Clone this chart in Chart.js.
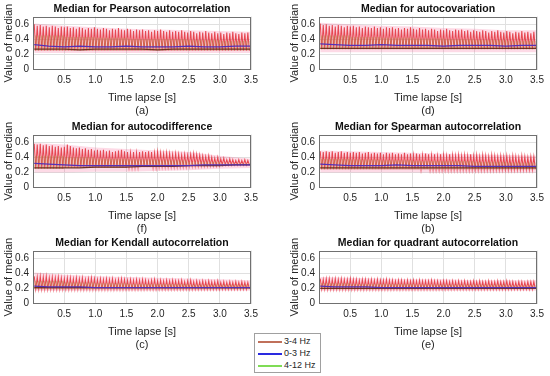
<!DOCTYPE html>
<html>
<head>
<meta charset="utf-8">
<script src="https://cdn.jsdelivr.net/npm/chart.js@4.4.1/dist/chart.umd.min.js"></script>
<style>
  body { margin: 0; background: #fff; }
  #wrap { position: relative; width: 550px; height: 376px; overflow: hidden; }
  canvas { position: absolute; }
  #legend {
    position: absolute; left: 254px; top: 333px; width: 65px; height: 38px;
    border: 1px solid #a0a0a0; background: #fff;
    font: 9px "Liberation Sans", Arial, sans-serif; color: #262626;
  }
  .row { position: absolute; left: 3px; height: 12px; line-height: 12px; white-space: nowrap; }
  .swatch { display: inline-block; width: 24px; height: 2px; vertical-align: middle; margin-right: 2px; }
</style>
</head>
<body>
<div id="wrap">
  <canvas id="c0" width="264" height="118" style="left:0;top:0"></canvas>
  <canvas id="c1" width="264" height="118" style="left:286px;top:0"></canvas>
  <canvas id="c2" width="264" height="118" style="left:0;top:118px"></canvas>
  <canvas id="c3" width="264" height="118" style="left:286px;top:118px"></canvas>
  <canvas id="c4" width="264" height="118" style="left:0;top:234px"></canvas>
  <canvas id="c5" width="264" height="118" style="left:286px;top:234px"></canvas>
  <div id="legend"></div>
</div>
<script>
// ---- labels ----
const panelTitles = [
  'Median for Pearson autocorrelation',
  'Median for autocovariation',
  'Median for autocodifference',
  'Median for Spearman autocorrelation',
  'Median for Kendall autocorrelation',
  'Median for quadrant autocorrelation'
];
const panelLetters = ['(a)', '(d)', '(f)', '(b)', '(c)', '(e)'];
const seriesNames = ['3-4 Hz', '0-3 Hz', '4-12 Hz'];
const xTicks = [0.5, 1, 1.5, 2, 2.5, 3, 3.5];
const yTicks = [0, 0.2, 0.4, 0.6];

// time grid (s)
const envTimes = [0.02, 0.5, 1, 1.5, 2, 2.5, 3, 3.5];
const lineTimes = [0.02, 0.25, 0.5, 0.75, 1, 1.25, 1.5, 1.75, 2, 2.25, 2.5, 2.75, 3, 3.25, 3.5];
const spikeStart = 0.02;
const spikeStep = 0.0483;

// ---- (a) Pearson ----
const pearsonPeaks = [
  0.60,0.58,0.59,0.57,0.58,0.56,0.58,0.57,0.55,0.57,0.56,0.57,
  0.55,0.56,0.54,0.56,0.55,0.53,0.55,0.54,0.56,0.54,0.53,0.55,
  0.54,0.52,0.54,0.53,0.55,0.53,0.52,0.54,0.53,0.51,0.53,0.52,
  0.53,0.51,0.52,0.50,0.52,0.51,0.53,0.51,0.50,0.52,0.50,0.51,
  0.50,0.52,0.50,0.49,0.51,0.50,0.48,0.50,0.49,0.51,0.49,0.48,
  0.50,0.48,0.49,0.47,0.49,0.48,0.50,0.48,0.47,0.49,0.48,0.49
];
const pearsonTroughs = [0.25, 0.25, 0.25, 0.25, 0.25, 0.25, 0.25];
const pearsonGreen = [0.45, 0.43, 0.42, 0.40, 0.40, 0.39, 0.38];
const pearsonBandTop = [0.61, 0.58, 0.56, 0.54, 0.53, 0.52, 0.51, 0.50];
const pearsonBandBottom = [0.22, 0.22, 0.22, 0.22, 0.22, 0.22, 0.22, 0.22];
const pearsonBlue = [0.33,0.31,0.30,0.31,0.30,0.30,0.31,0.30,0.30,0.30,0.31,0.30,0.30,0.31,0.31];
const pearsonDark = [0.27,0.27,0.27,0.26,0.27,0.27,0.27,0.27,0.26,0.27,0.27,0.27,0.27,0.27,0.27];

// ---- (d) autocovariation ----
const covPeaks = [
  0.61,0.59,0.60,0.58,0.59,0.57,0.59,0.58,0.56,0.58,0.57,0.58,
  0.56,0.57,0.55,0.57,0.56,0.55,0.57,0.55,0.56,0.54,0.56,0.55,
  0.56,0.54,0.55,0.53,0.55,0.54,0.56,0.54,0.53,0.55,0.53,0.54,
  0.52,0.54,0.53,0.51,0.53,0.52,0.54,0.52,0.51,0.53,0.52,0.53,
  0.51,0.52,0.50,0.52,0.51,0.50,0.52,0.51,0.49,0.51,0.50,0.52,
  0.50,0.49,0.51,0.50,0.48,0.50,0.49,0.51,0.49,0.50,0.48,0.50
];
const covTroughs = [0.27, 0.27, 0.27, 0.27, 0.27, 0.27, 0.27];
const covGreen = [0.45, 0.43, 0.42, 0.41, 0.40, 0.39, 0.38];
const covBandTop = [0.62, 0.60, 0.58, 0.57, 0.55, 0.54, 0.52, 0.52];
const covBandBottom = [0.23, 0.23, 0.23, 0.23, 0.23, 0.23, 0.23, 0.23];
const covBlue = [0.34,0.33,0.32,0.32,0.33,0.32,0.32,0.32,0.31,0.32,0.32,0.32,0.31,0.32,0.32];
const covDark = [0.28,0.28,0.28,0.28,0.28,0.28,0.28,0.28,0.28,0.28,0.28,0.28,0.28,0.28,0.28];

// ---- (f) autocodifference ----
const diffPeaks = [
  0.58,0.57,0.58,0.56,0.57,0.55,0.56,0.54,0.55,0.53,0.54,0.57,
  0.55,0.53,0.52,0.53,0.51,0.52,0.50,0.51,0.49,0.50,0.49,0.50,
  0.48,0.49,0.47,0.48,0.49,0.50,0.48,0.47,0.46,0.47,0.46,0.47,
  0.48,0.47,0.48,0.47,0.46,0.47,0.46,0.45,0.46,0.45,0.44,0.45,
  0.44,0.43,0.44,0.43,0.44,0.45,0.44,0.43,0.42,0.41,0.42,0.40,
  0.39,0.40,0.38,0.39,0.37,0.38,0.37,0.36,0.37,0.36,0.37,0.36
];
const diffTroughs = [0.25, 0.26, 0.26, 0.27, 0.28, 0.29, 0.30];
const diffGreen = [0.42, 0.40, 0.38, 0.37, 0.36, 0.34, 0.32];
const diffBandTop = [0.59, 0.57, 0.53, 0.51, 0.49, 0.47, 0.42, 0.38];
const diffBandBottom = [0.20, 0.20, 0.21, 0.21, 0.22, 0.23, 0.25, 0.26];
const diffBlue = [0.32,0.31,0.30,0.29,0.29,0.29,0.29,0.29,0.29,0.29,0.29,0.30,0.30,0.30,0.30];
const diffDark = [0.26,0.26,0.26,0.26,0.27,0.27,0.27,0.28,0.28,0.28,0.29,0.29,0.29,0.30,0.30];

// ---- (b) Spearman ----
const spearPeaks = [
  0.48,0.47,0.48,0.47,0.48,0.46,0.47,0.48,0.46,0.47,0.46,0.47,
  0.46,0.47,0.45,0.46,0.47,0.45,0.46,0.45,0.46,0.44,0.46,0.45,
  0.46,0.44,0.45,0.44,0.46,0.44,0.45,0.43,0.45,0.44,0.43,0.45,
  0.44,0.43,0.44,0.42,0.44,0.43,0.42,0.44,0.43,0.42,0.43,0.42,
  0.43,0.42,0.44,0.42,0.43,0.41,0.43,0.42,0.41,0.43,0.42,0.41,
  0.42,0.41,0.42,0.40,0.42,0.41,0.40,0.42,0.41,0.40,0.41,0.41
];
const spearTroughs = [0.24, 0.24, 0.24, 0.24, 0.24, 0.24, 0.24];
const spearGreen = [0.38, 0.37, 0.36, 0.35, 0.35, 0.34, 0.33];
const spearBandTop = [0.49, 0.48, 0.47, 0.46, 0.45, 0.44, 0.43, 0.42];
const spearBandBottom = [0.20, 0.20, 0.20, 0.20, 0.20, 0.20, 0.20, 0.20];
const spearBlue = [0.31,0.30,0.29,0.29,0.29,0.30,0.29,0.29,0.29,0.29,0.28,0.28,0.28,0.28,0.28];
const spearDark = [0.26,0.26,0.26,0.26,0.26,0.26,0.26,0.26,0.26,0.26,0.26,0.26,0.26,0.26,0.26];

// ---- (c) Kendall ----
const kendallPeaks = [
  0.36,0.35,0.36,0.35,0.36,0.34,0.35,0.34,0.35,0.34,0.33,0.34,
  0.34,0.33,0.34,0.33,0.34,0.32,0.33,0.34,0.33,0.32,0.33,0.32,
  0.33,0.32,0.33,0.31,0.32,0.33,0.32,0.31,0.32,0.31,0.32,0.31,
  0.32,0.31,0.30,0.31,0.32,0.30,0.31,0.30,0.31,0.30,0.31,0.30,
  0.30,0.31,0.29,0.30,0.31,0.29,0.30,0.29,0.30,0.29,0.30,0.29,
  0.29,0.30,0.28,0.29,0.28,0.29,0.28,0.29,0.28,0.29,0.28,0.28
];
const kendallTroughs = [0.19, 0.19, 0.19, 0.19, 0.19, 0.19, 0.19];
const kendallGreen = [0.30, 0.28, 0.27, 0.26, 0.26, 0.25, 0.25];
const kendallBandTop = [0.41, 0.38, 0.36, 0.35, 0.34, 0.33, 0.32, 0.31];
const kendallBandBottom = [0.17, 0.17, 0.17, 0.17, 0.17, 0.17, 0.17, 0.17];
const kendallBlue = [0.23,0.22,0.22,0.22,0.21,0.21,0.21,0.21,0.21,0.21,0.21,0.21,0.21,0.21,0.21];
const kendallDark = [0.21,0.21,0.21,0.21,0.21,0.21,0.21,0.21,0.21,0.21,0.21,0.21,0.21,0.21,0.21];

// ---- (e) quadrant ----
const quadPeaks = [
  0.33,0.32,0.33,0.33,0.32,0.33,0.32,0.33,0.32,0.32,0.33,0.32,
  0.32,0.31,0.32,0.32,0.31,0.32,0.31,0.32,0.31,0.31,0.32,0.31,
  0.31,0.30,0.31,0.31,0.30,0.31,0.30,0.31,0.30,0.31,0.30,0.30,
  0.30,0.31,0.30,0.30,0.29,0.30,0.30,0.29,0.30,0.29,0.30,0.29,
  0.30,0.29,0.29,0.30,0.29,0.30,0.29,0.29,0.30,0.29,0.29,0.30,
  0.29,0.29,0.30,0.29,0.29,0.28,0.29,0.29,0.28,0.29,0.29,0.29
];
const quadTroughs = [0.19, 0.19, 0.19, 0.19, 0.19, 0.19, 0.19];
const quadGreen = [0.27, 0.26, 0.26, 0.25, 0.25, 0.25, 0.24];
const quadBandTop = [0.35, 0.34, 0.33, 0.32, 0.32, 0.31, 0.31, 0.31];
const quadBandBottom = [0.17, 0.17, 0.17, 0.17, 0.17, 0.17, 0.17, 0.17];
const quadBlue = [0.23,0.22,0.22,0.22,0.21,0.21,0.21,0.21,0.21,0.21,0.21,0.21,0.21,0.21,0.21];
const quadDark = [0.20,0.20,0.20,0.20,0.20,0.20,0.20,0.20,0.20,0.20,0.20,0.20,0.20,0.20,0.20];

const panels = [
  { peaks: pearsonPeaks, troughs: pearsonTroughs, green: pearsonGreen, top: pearsonBandTop, bottom: pearsonBandBottom, blue: pearsonBlue, dark: pearsonDark },
  { peaks: covPeaks, troughs: covTroughs, green: covGreen, top: covBandTop, bottom: covBandBottom, blue: covBlue, dark: covDark },
  { peaks: diffPeaks, troughs: diffTroughs, green: diffGreen, top: diffBandTop, bottom: diffBandBottom, blue: diffBlue, dark: diffDark },
  { peaks: spearPeaks, troughs: spearTroughs, green: spearGreen, top: spearBandTop, bottom: spearBandBottom, blue: spearBlue, dark: spearDark },
  { peaks: kendallPeaks, troughs: kendallTroughs, green: kendallGreen, top: kendallBandTop, bottom: kendallBandBottom, blue: kendallBlue, dark: kendallDark },
  { peaks: quadPeaks, troughs: quadTroughs, green: quadGreen, top: quadBandTop, bottom: quadBandBottom, blue: quadBlue, dark: quadDark }
];

const COLORS = {
  band: 'rgba(245, 70, 130, 0.2)',
  red: 'rgba(225, 35, 45, 0.8)',
  green: 'rgba(175, 150, 80, 0.45)',
  dark: 'rgba(95, 40, 20, 0.9)',
  blue: '#5530b8',
  legendRed: '#c0705a',
  legendBlue: '#2a2ae0',
  legendGreen: '#7fdc55'
};
const FONT = '"Liberation Sans", Arial, Helvetica, sans-serif';

// segment index (0.5 s wide) for the step-wise trough / green levels
const segOf = t => Math.min(6, Math.floor(t / 0.5));

function spikeSeries(peaks, troughs) {
  const pts = [];
  peaks.forEach((p, i) => {
    const t = spikeStart + i * spikeStep;
    pts.push({ x: t, y: p });
    pts.push({ x: t + spikeStep / 2, y: troughs[segOf(t + spikeStep / 2)] });
  });
  return pts;
}

function greenSeries(peaks, troughs, green) {
  const pts = [];
  peaks.forEach((p, i) => {
    const t = spikeStart + i * spikeStep;
    pts.push({ x: t, y: troughs[segOf(t)] });
    pts.push({ x: t + spikeStep / 2, y: green[segOf(t + spikeStep / 2)] });
  });
  return pts;
}

const pair = (xs, ys) => xs.map((x, i) => ({ x: x, y: ys[i] }));

// box around the plot area, like the MATLAB axes
const framePlugin = {
  id: 'frame',
  afterDatasetsDraw(chart) {
    const a = chart.chartArea;
    const ctx = chart.ctx;
    ctx.save();
    ctx.strokeStyle = '#707070';
    ctx.lineWidth = 1;
    ctx.strokeRect(Math.round(a.left) + 0.5, Math.round(a.top) + 0.5,
      Math.round(a.right - a.left) - 1, Math.round(a.bottom - a.top) - 1);
    ctx.restore();
  }
};

function makePanel(idx) {
  const p = panels[idx];
  const line = { pointRadius: 0, tension: 0, fill: false };
  new Chart(document.getElementById('c' + idx), {
    type: 'line',
    data: {
      datasets: [
        Object.assign({ data: pair(envTimes, p.bottom), borderWidth: 0, borderColor: 'rgba(0,0,0,0)', order: 10 }, line),
        Object.assign({}, line, { data: pair(envTimes, p.top), borderWidth: 0, borderColor: 'rgba(0,0,0,0)', backgroundColor: COLORS.band, fill: '-1', order: 9 }),
        Object.assign({ label: seriesNames[0], data: spikeSeries(p.peaks, p.troughs), borderColor: COLORS.red, borderWidth: 1.05, order: 5 }, line),
        Object.assign({ label: seriesNames[2], data: greenSeries(p.peaks, p.troughs, p.green), borderColor: COLORS.green, borderWidth: 0.9, order: 4 }, line),
        Object.assign({ data: pair(lineTimes, p.dark), borderColor: COLORS.dark, borderWidth: 1.2, order: 3 }, line),
        Object.assign({ label: seriesNames[1], data: pair(lineTimes, p.blue), borderColor: COLORS.blue, borderWidth: 1.2, order: 2 }, line)
      ]
    },
    options: {
      responsive: false,
      animation: false,
      events: [],
      layout: { padding: { top: 1, right: 13, left: 0, bottom: 0 } },
      plugins: {
        legend: { display: false },
        tooltip: { enabled: false },
        title: {
          display: true,
          fullSize: false,
          text: panelTitles[idx],
          color: '#111',
          font: { family: FONT, size: 10.5, weight: 'bold' },
          padding: { top: 2, bottom: 1 }
        }
      },
      scales: {
        x: {
          type: 'linear',
          min: 0,
          max: 3.5,
          afterBuildTicks: s => { s.ticks = xTicks.map(v => ({ value: v })); },
          grid: { color: '#e0e0e0', drawTicks: false },
          border: { display: false },
          ticks: { color: '#262626', font: { family: FONT, size: 10 }, padding: 5, maxRotation: 0 },
          title: {
            display: true,
            text: ['Time lapse [s]', panelLetters[idx]],
            color: '#262626',
            font: { family: FONT, size: 11, lineHeight: 1.2 },
            padding: { top: 0, bottom: 0 }
          }
        },
        y: {
          min: 0,
          max: 0.7,
          afterBuildTicks: s => { s.ticks = yTicks.map(v => ({ value: v })); },
          afterFit: s => { s.width = 33; },
          grid: { color: '#e0e0e0', drawTicks: false },
          border: { display: false },
          ticks: { color: '#262626', font: { family: FONT, size: 10 }, padding: 4 },
          title: {
            display: true,
            text: 'Value of median',
            color: '#262626',
            font: { family: FONT, size: 11 },
            padding: { top: 2, bottom: 0 }
          }
        }
      }
    },
    plugins: [framePlugin]
  });
}

panels.forEach((_, i) => makePanel(i));

// shared legend box
const legendColors = [COLORS.legendRed, COLORS.legendBlue, COLORS.legendGreen];
const legendEl = document.getElementById('legend');
seriesNames.forEach((name, i) => {
  const row = document.createElement('div');
  row.className = 'row';
  row.style.top = (1 + i * 12) + 'px';
  const sw = document.createElement('span');
  sw.className = 'swatch';
  sw.style.backgroundColor = legendColors[i];
  row.appendChild(sw);
  row.appendChild(document.createTextNode(name));
  legendEl.appendChild(row);
});
</script>
</body>
</html>
